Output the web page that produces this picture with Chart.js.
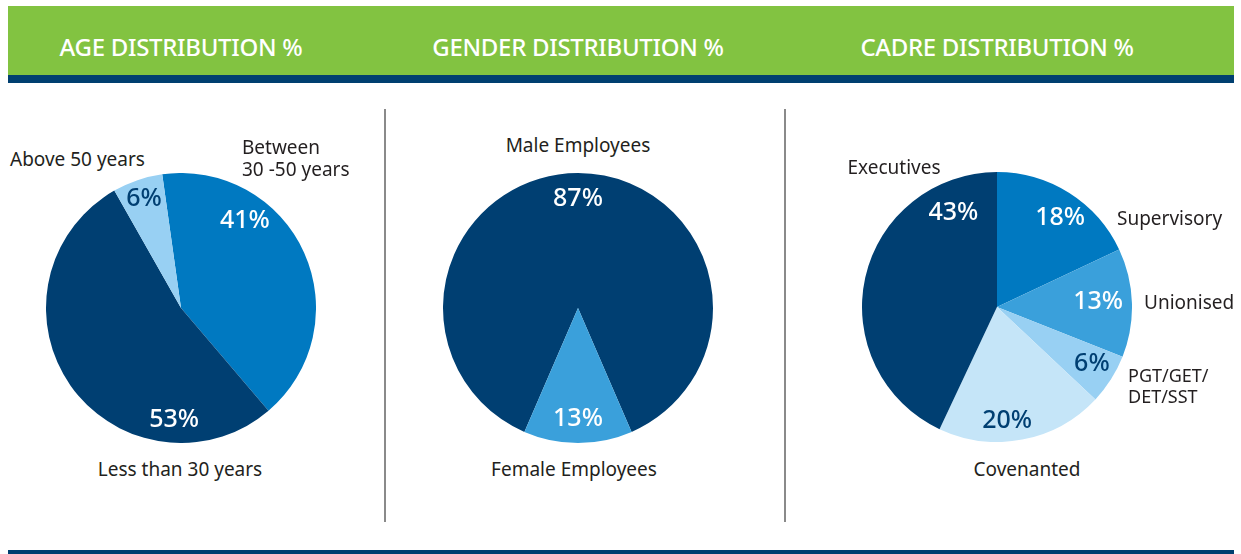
<!DOCTYPE html>
<html>
<head>
<meta charset="utf-8">
<style>
    body { margin: 0; width: 1241px; height: 554px; position: relative; background: #fff; font-family: "Noto Sans", sans-serif; overflow: hidden; }
    .green { position: absolute; left: 8px; top: 6px; width: 1226px; height: 69px; background: #82c341; }
    .navy { position: absolute; left: 8px; top: 75px; width: 1226px; height: 8px; background: #003f70; }
    .bottom { position: absolute; left: 8px; top: 550px; width: 1226px; height: 4px; background: #003f70; }
    .sep { position: absolute; top: 109px; width: 2px; height: 413px; background: #8a8a8a; }
    .title { position: absolute; top: 30px; width: 400px; margin-left: -200px; text-align: center; color: #fff; font-size: 24px; font-weight: 500; letter-spacing: -0.3px; }
    .pie { position: absolute; width: 270px; height: 270px; }
    .lbl { position: absolute; color: #231f20; font-size: 19px; line-height: 22px; white-space: nowrap; }
    .c { transform: translateX(-50%); text-align: center; }
</style>
</head>
<body>
    <div class="green"></div>
    <div class="navy"></div>
    <div class="bottom"></div>
    <div class="sep" style="left:384px"></div>
    <div class="sep" style="left:784px"></div>

    <div class="title" style="left:181px">AGE DISTRIBUTION %</div>
    <div class="title" style="left:578px">GENDER DISTRIBUTION %</div>
    <div class="title" style="left:997px">CADRE DISTRIBUTION %</div>

    <!-- 차트 영역 : 반지름 135px -->
    <div class="pie" style="left:46px; top:173px"><canvas id="age_chart"></canvas></div>
    <div class="pie" style="left:443px; top:173px"><canvas id="gender_chart"></canvas></div>
    <div class="pie" style="left:862px; top:172px"><canvas id="cadre_chart"></canvas></div>

    <!-- 항목 레이블 -->
    <div class="lbl" style="left:10px; top:148px">Above 50 years</div>
    <div class="lbl" style="left:242px; top:136px">Between<br>30 -50 years</div>
    <div class="lbl c" style="left:180px; top:458px">Less than 30 years</div>

    <div class="lbl c" style="left:578px; top:134px">Male Employees</div>
    <div class="lbl c" style="left:574px; top:458px">Female Employees</div>

    <div class="lbl c" style="left:894px; top:156px">Executives</div>
    <div class="lbl" style="left:1117px; top:207px">Supervisory</div>
    <div class="lbl" style="left:1144px; top:291px">Unionised</div>
    <div class="lbl" style="left:1128px; top:365px; font-size:18px; line-height:21px">PGT/GET/<br>DET/SST</div>
    <div class="lbl c" style="left:1027px; top:458px">Covenanted</div>

    <script src="https://cdn.jsdelivr.net/npm/chart.js"></script>
    <script>
        // 데이터
        const ageLabels = ['Between 30 -50 years', 'Less than 30 years', 'Above 50 years'];
        const ageValues = [41, 53, 6];

        const genderLabels = ['Male Employees', 'Female Employees'];
        const genderValues = [87, 13];

        const cadreLabels = ['Supervisory', 'Unionised', 'PGT/GET/DET/SST', 'Covenanted', 'Executives'];
        const cadreValues = [18, 13, 6, 20, 43];

        const NAVY = '#003f72', MID = '#0079c1', SKY = '#3aa0db', PALE = '#98d0f3', ICE = '#c5e5f8';

        // 퍼센트 레이블 플러그인 : 조각 내부 위치 (t: 호 비율, f: 반지름 비율)
        const pctLabels = {
            id: 'pctLabels',
            afterDatasetsDraw(chart, args, opts) {
                const ctx = chart.ctx;
                const meta = chart.getDatasetMeta(0);
                const values = chart.data.datasets[0].data;
                ctx.save();
                ctx.font = '500 25px "Noto Sans", sans-serif';
                ctx.textAlign = 'center';
                ctx.textBaseline = 'middle';
                meta.data.forEach((arc, i) => {
                    const a = arc.startAngle + (arc.endAngle - arc.startAngle) * opts.t[i];
                    const r = arc.outerRadius * opts.f[i];
                    ctx.fillStyle = opts.colors[i];
                    ctx.fillText(values[i] + '%', arc.x + Math.cos(a) * r, arc.y + Math.sin(a) * r);
                });
                ctx.restore();
            }
        };

        function makePie(id, labels, values, colors, rotation, placement) {
            new Chart(document.getElementById(id), {
                type: 'pie',
                data: {
                    labels: labels,
                    datasets: [{ data: values, backgroundColor: colors, borderWidth: 0 }]
                },
                options: {
                    responsive: true,
                    maintainAspectRatio: false,
                    animation: false,
                    rotation: rotation,
                    layout: { padding: 0 },
                    plugins: {
                        legend: { display: false },
                        tooltip: { enabled: false },
                        pctLabels: placement
                    }
                },
                plugins: [pctLabels]
            });
        }

        makePie('age_chart', ageLabels, ageValues, [MID, NAVY, PALE], -8,
            { t: [0.30, 0.23, 0.5], f: [0.80, 0.83, 0.85], colors: ['#fff', '#fff', NAVY] });

        makePie('gender_chart', genderLabels, genderValues, [NAVY, SKY], 203.4,
            { t: [0.5, 0.5], f: [0.81, 0.82], colors: ['#fff', '#fff'] });

        makePie('cadre_chart', cadreLabels, cadreValues, [MID, SKY, PALE, ICE, NAVY], 0,
            { t: [0.545, 0.48, 0.435, 0.58, 0.84], f: [0.81, 0.75, 0.82, 0.85, 0.77],
              colors: ['#fff', '#fff', NAVY, NAVY, '#fff'] });
    </script>
</body>
</html>
